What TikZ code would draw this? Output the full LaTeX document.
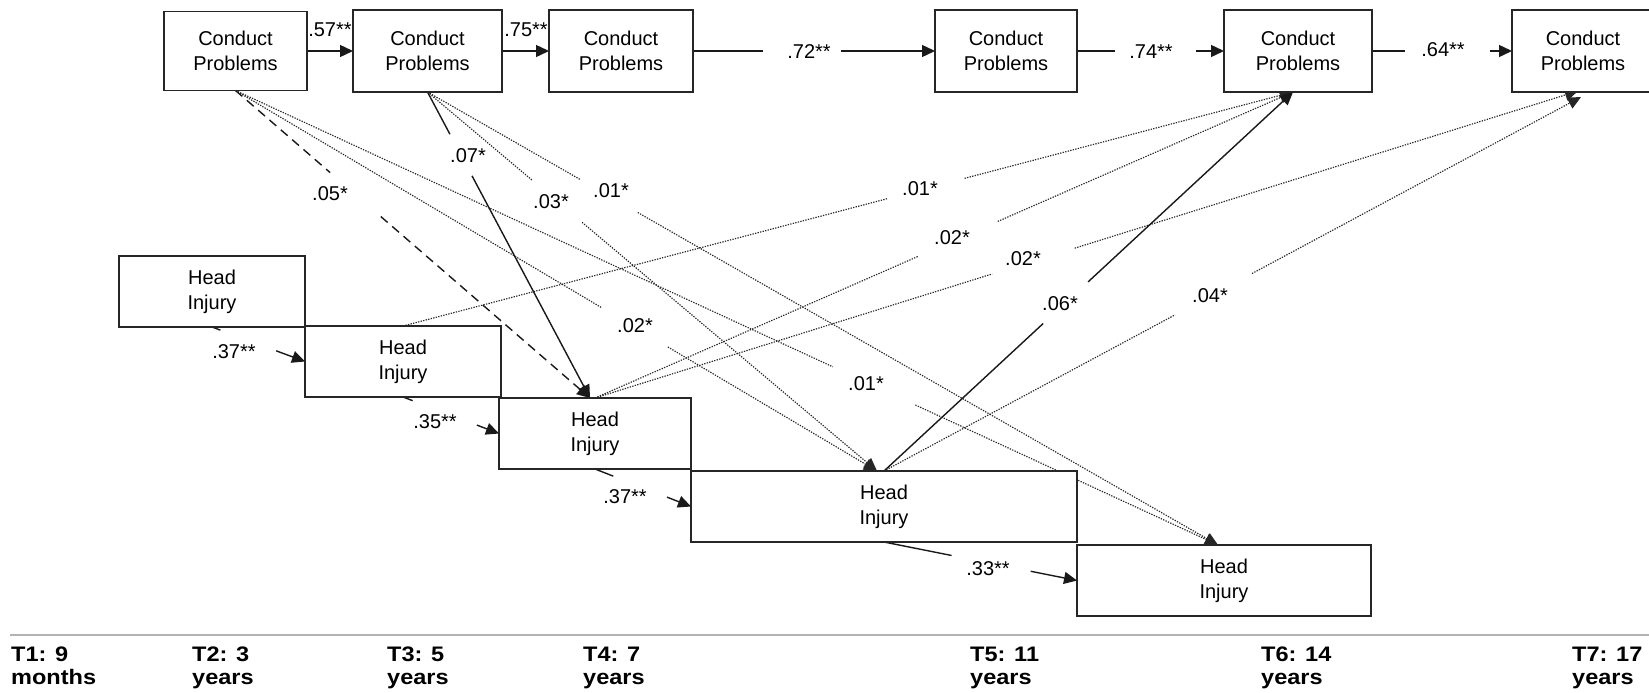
\documentclass[tikz,border=0pt]{standalone}
\usepackage{fontspec}
\setmainfont{Liberation Sans}
\newfontfamily\axfont[FakeStretch=1.12]{Liberation Sans}
\usetikzlibrary{arrows.meta,calc,backgrounds}
\newcommand\gapconn[5]{%
  \draw[#1] (#2) -- ($(#2)!#4!(#3)$);
  \draw[#1,tip] ($(#2)!#5!(#3)$) -- (#3);}
\begin{document}
\begin{tikzpicture}[x=1pt,y=-1pt,
  box/.style={draw=black!85, line width=1.3pt, fill=white, inner sep=0pt, outer sep=0pt,
    align=center, font=\fontsize{20}{25}\selectfont},
  cpbox/.style={box, minimum width=144pt, minimum height=82pt},
  hibox/.style={box, minimum height=71pt},
  lab/.style={font=\fontsize{20}{24}\selectfont, inner sep=0pt},
  axl/.style={font=\axfont\bfseries\fontsize{21}{26}\selectfont, anchor=base west, inner sep=0pt},
  solidc/.style={line width=1.4pt, draw=black!90},
  dotc/.style={line width=1.15pt, draw=black!85, dash pattern=on 1.3pt off 1.3pt},
  dashc/.style={line width=1.4pt, draw=black!90, dash pattern=on 9pt off 6pt},
  tip/.style={-{Triangle[length=13pt,width=12pt]}},
]
\useasboundingbox (0,0) rectangle (1649,693);

% Conduct problems row
\node[cpbox, minimum width=143pt, minimum height=79pt] (cp1) at (235.5,51) {Conduct\\Problems};
\node[cpbox, minimum width=149pt] (cp2) at (427.5,51) {Conduct\\Problems};
\node[cpbox] (cp3) at (621,51) {Conduct\\Problems};
\node[cpbox, minimum width=142pt] (cp4) at (1006,51) {Conduct\\Problems};
\node[cpbox, minimum width=148pt] (cp5) at (1298,51) {Conduct\\Problems};
\node[cpbox, minimum width=142pt] (cp6) at (1583,51) {Conduct\\Problems};

% Head injury staircase
\node[hibox, minimum width=186pt] (hi1) at (212,291.5) {Head\\Injury};
\node[hibox, minimum width=196pt] (hi2) at (403,361.5) {Head\\Injury};
\node[hibox, minimum width=192pt] (hi3) at (595,433.5) {Head\\Injury};
\node[hibox, minimum width=386pt] (hi4) at (884,506.5) {Head\\Injury};
\node[hibox, minimum width=294pt] (hi5) at (1224,580.5) {Head\\Injury};

\coordinate (hi3in) at ($(hi3.north)+(-5,0)$);
\coordinate (hi4in) at ($(hi4.north)+(-7,0)$);
\coordinate (hi5in) at ($(hi5.north)+(-6,0)$);
\coordinate (cp5in) at ($(cp5.south)+(-5,0)$);
\coordinate (cp6ina) at ($(cp6.south)+(-5,-1)$);
\coordinate (cp6inb) at ($(cp6.south)+(-2,5)$);

\begin{scope}[on background layer]
\fill[white] (0,0) rectangle (1649,693);
% stability paths, conduct problems
\draw[solidc,tip] (cp1.east) -- (cp2.west);
\draw[solidc,tip] (cp2.east) -- (cp3.west);
\gapconn{solidc}{cp3.east}{cp4.west}{0.2875}{0.6125}
\gapconn{solidc}{cp4.east}{cp5.west}{0.2585}{0.8095}
\gapconn{solidc}{cp5.east}{cp6.west}{0.236}{0.843}
% stability paths, head injury
\gapconn{solidc}{hi1.south}{hi2.west}{0.09}{0.69}
\gapconn{solidc}{hi2.south}{hi3.west}{0.10}{0.77}
\gapconn{solidc}{hi3.south}{hi4.west}{0.19}{0.75}
\gapconn{solidc}{hi4.south}{hi5.west}{0.35}{0.76}
% conduct problems -> head injury
\gapconn{dashc}{cp1.south}{hi3in}{0.267}{0.41}
\gapconn{solidc}{cp2.south}{hi3in}{0.138}{0.274}
\gapconn{dotc}{cp2.south}{hi4in}{0.2325}{0.344}
\gapconn{dotc}{cp2.south}{hi5in}{0.193}{0.266}
\gapconn{dotc}{cp1.south}{hi4in}{0.571}{0.674}
\gapconn{dotc}{cp1.south}{hi5in}{0.608}{0.692}
% head injury -> conduct problems
\gapconn{dotc}{hi2.north}{cp5in}{0.545}{0.631}
\gapconn{dotc}{hi3.north}{cp5in}{0.463}{0.577}
\gapconn{dotc}{hi3.north}{cp6ina}{0.404}{0.488}
\gapconn{solidc}{hi4.north}{cp5in}{0.389}{0.499}
\gapconn{dotc}{hi4.north}{cp6inb}{0.4175}{0.528}
\end{scope}

% path labels
\node[lab] (l57) at (330,30) {.57**};
\node[lab] (l75) at (526,30) {.75**};
\node[lab] (l72) at (809,52) {.72**};
\node[lab] (l74) at (1151,52) {.74**};
\node[lab] (l64) at (1443,50) {.64**};
\node[lab] (l05) at (330,194) {.05*};
\node[lab] (l07) at (468,156) {.07*};
\node[lab] (l03) at (551,202) {.03*};
\node[lab] (l01a) at (611,191) {.01*};
\node[lab] (l02a) at (635,326) {.02*};
\node[lab] (l01b) at (866,384) {.01*};
\node[lab] (l01c) at (920,189) {.01*};
\node[lab] (l02b) at (952,238) {.02*};
\node[lab] (l02c) at (1023,259) {.02*};
\node[lab] (l06) at (1060,304) {.06*};
\node[lab] (l04) at (1210,296) {.04*};
\node[lab] (l37a) at (234,352) {.37**};
\node[lab] (l35) at (435,422) {.35**};
\node[lab] (l37b) at (625,497) {.37**};
\node[lab] (l33) at (988,569) {.33**};

% time axis
\draw[line width=2.5pt, black!30] (10,635) -- (1649,635);
\node[axl] (t1a) at (11,661) {T1: 9};
\node[axl] (t1b) at (11,684) {months};
\node[axl] (t2a) at (192,661) {T2: 3};
\node[axl] (t2b) at (192,684) {years};
\node[axl] (t3a) at (387,661) {T3: 5};
\node[axl] (t3b) at (387,684) {years};
\node[axl] (t4a) at (583,661) {T4: 7};
\node[axl] (t4b) at (583,684) {years};
\node[axl] (t5a) at (970,661) {T5: 11};
\node[axl] (t5b) at (970,684) {years};
\node[axl] (t6a) at (1261,661) {T6: 14};
\node[axl] (t6b) at (1261,684) {years};
\node[axl] (t7a) at (1572,661) {T7: 17};
\node[axl] (t7b) at (1572,684) {years};
\end{tikzpicture}
\end{document}
